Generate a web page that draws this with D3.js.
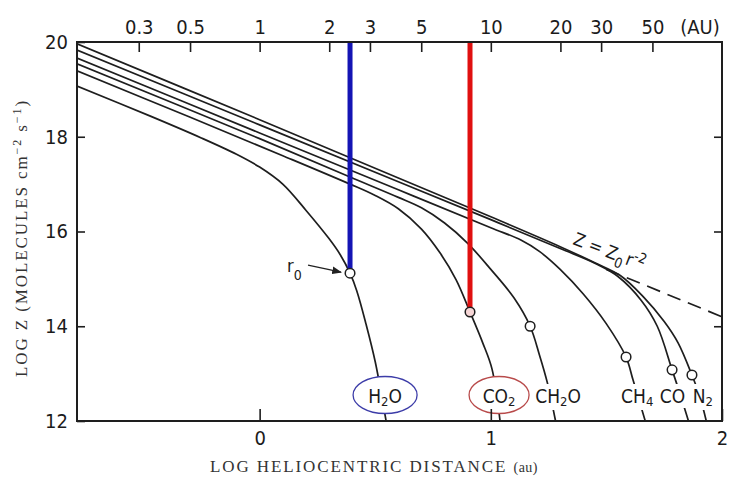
<!DOCTYPE html>
<html>
<head>
<meta charset="utf-8">
<script src="https://cdn.jsdelivr.net/npm/d3@7"></script>
<style>
  body { margin: 0; background: #fff; }
  svg { display: block; }
  .lettering { font-family: "Liberation Sans Narrow", "DejaVu Sans Condensed", "Arial Narrow", "Liberation Sans", sans-serif; fill: #1b1b1b; }
  .serif { font-family: "Liberation Serif", "DejaVu Serif", serif; fill: #333; }
</style>
</head>
<body>
<svg id="chart" width="729" height="484"></svg>
<script>
// curves: [log r (AU), log Z]
const h2oCurve = [[-0.79,19.07],[-0.47,18.43],[-0.25,17.97],[-0.1,17.63],[0.0,17.36],[0.1,17.0],[0.2,16.45],[0.3,15.85],[0.35,15.5],[0.391,15.12],[0.42,14.75],[0.46,14.05],[0.5,13.25],[0.547,12.0]];
const co2Curve = [[-0.79,19.39],[-0.3,18.41],[0.1,17.6],[0.391,17.0],[0.5,16.76],[0.6,16.48],[0.7,16.05],[0.78,15.55],[0.85,14.98],[0.91,14.30],[0.965,13.65],[1.005,13.1],[1.04,12.0]];
const ch2oCurve = [[-0.79,19.54],[0.0,17.96],[0.391,17.15],[0.6,16.72],[0.7,16.5],[0.8,16.18],[0.9,15.75],[1.0,15.2],[1.1,14.6],[1.17,14.0],[1.21,13.4],[1.245,12.8],[1.28,12.0]];
const ch4Curve = [[-0.79,19.66],[0.0,18.08],[0.6,16.88],[1.0,16.08],[1.13,15.82],[1.21,15.58],[1.3,15.2],[1.4,14.68],[1.5,14.05],[1.585,13.35],[1.615,12.87],[1.668,12.0]];
const coCurve = [[-0.79,19.83],[0.0,18.25],[0.6,17.05],[1.0,16.25],[1.3,15.64],[1.45,15.33],[1.55,15.05],[1.65,14.55],[1.72,14.0],[1.784,13.08],[1.82,12.55],[1.855,12.0]];
const n2Curve = [[-0.79,19.96],[0.0,18.36],[0.6,17.13],[1.0,16.31],[1.3,15.68],[1.45,15.34],[1.56,15.07],[1.66,14.62],[1.75,14.1],[1.81,13.65],[1.87,12.97],[1.905,12.5],[1.932,12.0]];

const species = ["H2O", "CO2", "CH2O", "CH4", "CO", "N2"];
const curves = [h2oCurve, co2Curve, ch2oCurve, ch4Curve, coCurve, n2Curve];
// r0 markers
const r0Log = [0.391, 0.91, 1.17, 1.585, 1.784, 1.87];
const z0Log = [15.12, 14.30, 14.0, 13.35, 13.08, 12.97];
// Z = Z0 r^-2 asymptote (dashed)
const zLine = [[1.5, 15.2], [2.0, 14.2]];

const yTicks = [12, 14, 16, 18, 20];
const xTicks = [0, 1, 2];
const auTicks = [0.3, 0.5, 1, 2, 3, 5, 10, 20, 30, 50];

(function () {
  const svg = d3.select("#chart");
  const x0 = 77, x1 = 722, y0 = 42, y1 = 421;

  const x = d3.scaleLinear().domain([-0.79, 2.0]).range([x0, x1]);
  const y = d3.scaleLinear().domain([12, 20]).range([y1, y0]);
  const xAU = d3.scaleLog().domain([Math.pow(10, -0.79), 100]).range([x0, x1]);

  const defs = svg.append("defs");
  defs.append("clipPath").attr("id", "plot")
    .append("rect").attr("x", x0).attr("y", y0).attr("width", x1 - x0).attr("height", y1 - y0);
  defs.append("marker")
    .attr("id", "arrow").attr("viewBox", "0 0 10 10").attr("refX", 9).attr("refY", 5)
    .attr("markerWidth", 7).attr("markerHeight", 7).attr("orient", "auto")
    .append("path").attr("d", "M0,1 L10,5 L0,9 z").attr("fill", "#222");

  const plot = svg.append("g").attr("clip-path", "url(#plot)");

  const line = d3.line()
    .x(d => x(d[0]))
    .y(d => y(d[1]))
    .curve(d3.curveCatmullRom.alpha(0.5));

  plot.selectAll("path.curve")
    .data(curves)
    .join("path")
    .attr("class", "curve")
    .attr("d", line)
    .attr("fill", "none")
    .attr("stroke", "#1e1e1e")
    .attr("stroke-width", 1.7);

  plot.append("path")
    .attr("d", d3.line().x(d => x(d[0])).y(d => y(d[1]))(zLine))
    .attr("fill", "none")
    .attr("stroke", "#1e1e1e")
    .attr("stroke-width", 1.7)
    .attr("stroke-dasharray", "14,8");

  // highlighted r0 of H2O and CO2
  const barColors = ["#1414b4", "#e01010"];
  [0, 1].forEach(i => {
    plot.append("line")
      .attr("x1", x(r0Log[i])).attr("x2", x(r0Log[i]))
      .attr("y1", y(20)).attr("y2", y(z0Log[i]))
      .attr("stroke", barColors[i])
      .attr("stroke-width", 5);
  });

  plot.selectAll("circle.r0")
    .data(r0Log)
    .join("circle")
    .attr("class", "r0")
    .attr("cx", d => x(d))
    .attr("cy", (d, i) => y(z0Log[i]))
    .attr("r", 4.8)
    .attr("fill", (d, i) => i === 1 ? "#f6d6d6" : "#fff")
    .attr("stroke", "#1e1e1e")
    .attr("stroke-width", 1.5);

  // species labels at the foot of each curve
  const labelShift = { H2O: -1, CO2: -1, CH2O: 2.5, CH4: -8, CO: -16, N2: -3.5 };
  const ringColor = { H2O: "#3c3ca8", CO2: "#b84a4a" };
  const labelY = 403;

  species.forEach((name, i) => {
    const end = curves[i][curves[i].length - 1];
    const cx = x(end[0]) + labelShift[name];
    const g = svg.append("g");
    const t = g.append("text")
      .attr("class", "lettering")
      .attr("x", cx).attr("y", labelY)
      .attr("text-anchor", "middle")
      .attr("font-size", 19);
    let shift = 0;
    name.split(/(\d)/).filter(s => s).forEach(part => {
      if (/\d/.test(part)) {
        t.append("tspan").attr("font-size", 13).attr("dy", 3).text(part);
        shift = -3;
      } else {
        t.append("tspan").attr("dy", shift).text(part);
        shift = 0;
      }
    });
    const bb = t.node().getBBox();
    if (ringColor[name]) {
      g.insert("ellipse", "text")
        .attr("cx", cx).attr("cy", labelY - 8)
        .attr("rx", name === "H2O" ? 32 : 30).attr("ry", 18.5)
        .attr("fill", "#fff")
        .attr("stroke", ringColor[name])
        .attr("stroke-width", 1.3);
    } else {
      g.insert("rect", "text")
        .attr("x", bb.x - 2).attr("y", bb.y - 1)
        .attr("width", bb.width + 4).attr("height", bb.height + 2)
        .attr("fill", "#fff");
    }
  });

  // r0 pointer
  const hx = x(r0Log[0]), hy = y(z0Log[0]);
  svg.append("line")
    .attr("x1", hx - 42).attr("y1", hy - 8)
    .attr("x2", hx - 9).attr("y2", hy - 1)
    .attr("stroke", "#222").attr("stroke-width", 1.4)
    .attr("marker-end", "url(#arrow)");
  const r0Text = svg.append("text").attr("class", "lettering")
    .attr("x", hx - 63).attr("y", hy - 1).attr("font-size", 18);
  r0Text.append("tspan").text("r");
  r0Text.append("tspan").attr("font-size", 14).attr("dy", 8).text("0");

  // Z = Z0 r^-2 label, tilted along the line
  const zl = svg.append("text").attr("class", "lettering")
    .attr("transform", "translate(572,244) rotate(21)")
    .attr("font-size", 18);
  zl.append("tspan").text("Z = Z");
  zl.append("tspan").attr("font-size", 14).attr("dy", 6).text("0");
  zl.append("tspan").attr("dy", -6).attr("dx", 2).text("r");
  zl.append("tspan").attr("font-size", 14).attr("dy", -7).text("-2");

  // frame
  svg.append("rect")
    .attr("x", x0).attr("y", y0)
    .attr("width", x1 - x0).attr("height", y1 - y0)
    .attr("fill", "none").attr("stroke", "#1e1e1e").attr("stroke-width", 2);

  function styleAxis(g) {
    g.select(".domain").remove();
    g.selectAll(".tick line").attr("stroke", "#1e1e1e").attr("stroke-width", 1.6);
    g.selectAll(".tick text").attr("class", "lettering").attr("font-size", 20).attr("fill", "#1b1b1b");
  }

  svg.append("g")
    .attr("transform", `translate(${x0},0)`)
    .call(d3.axisLeft(y).tickValues(yTicks).tickSize(-8).tickPadding(9).tickFormat(d3.format("d")))
    .call(styleAxis);

  svg.append("g")
    .attr("transform", `translate(${x1},0)`)
    .call(d3.axisRight(y).tickValues([14, 16, 18]).tickSize(-8).tickFormat(""))
    .call(styleAxis);

  svg.append("g")
    .attr("transform", `translate(0,${y1})`)
    .call(d3.axisBottom(x).tickValues(xTicks).tickSize(-12).tickPadding(10).tickFormat(d3.format("d")))
    .call(styleAxis);

  svg.append("g")
    .attr("transform", `translate(0,${y0})`)
    .call(d3.axisTop(xAU).tickValues(auTicks).tickSize(-10).tickPadding(8).tickFormat(d => String(d)))
    .call(styleAxis);

  svg.append("text").attr("class", "lettering")
    .attr("x", 700).attr("y", y0 - 8)
    .attr("text-anchor", "middle").attr("font-size", 20)
    .text("(AU)");

  // axis titles
  const xt = svg.append("text").attr("class", "serif")
    .attr("x", 374).attr("y", 472)
    .attr("text-anchor", "middle").attr("font-size", 17)
    .attr("letter-spacing", 1.9);
  xt.append("tspan").text("LOG HELIOCENTRIC DISTANCE ");
  xt.append("tspan").attr("font-size", 14).attr("letter-spacing", 0.5).text("(au)");

  const yt = svg.append("text").attr("class", "serif")
    .attr("transform", "translate(27,238) rotate(-90)")
    .attr("text-anchor", "middle").attr("font-size", 17)
    .attr("letter-spacing", 1.9);
  yt.append("tspan").text("LOG Z (MOLECULES cm");
  yt.append("tspan").attr("font-size", 12).attr("dy", -6).text("\u22122");
  yt.append("tspan").attr("dy", 6).text(" s");
  yt.append("tspan").attr("font-size", 12).attr("dy", -6).text("\u22121");
  yt.append("tspan").attr("dy", 6).text(")");
})();
</script>
</body>
</html>
